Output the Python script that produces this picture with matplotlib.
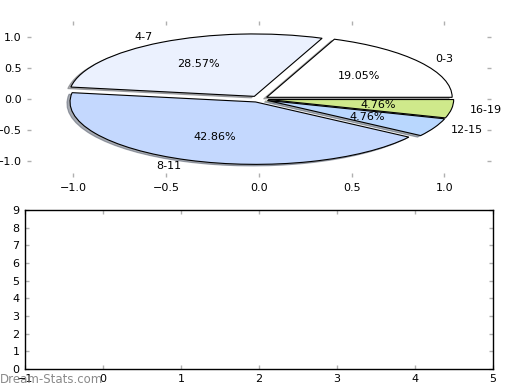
import matplotlib
matplotlib.use("Agg")
import matplotlib.pyplot as plt

# slice data, counterclockwise from 3 o'clock
age_groups = ["0-3", "4-7", "8-11", "12-15", "16-19"]
counts = [4, 6, 9, 1, 1]
slice_colors = ["#ffffff", "#ebf1fe", "#c4d8fe", "#b9d7fe", "#cfe98b"]

bottom_xticks = [-1, 0, 1, 2, 3, 4, 5]
bottom_yticks = [0, 1, 2, 3, 4, 5, 6, 7, 8, 9]

plt.rcParams["font.size"] = 8
plt.rcParams["font.family"] = "DejaVu Sans"

fig = plt.figure(figsize=(5.2, 3.9), dpi=100)


def style_ticks(ax):
    ax.tick_params(direction="in", length=3, width=1, color="#b0b0b0",
                   top=True, right=True, labelsize=8, pad=4)


ax_pie = fig.add_axes([0.052, 0.546, 0.892, 0.4])
ax_pie.pie(
    counts,
    labels=age_groups,
    colors=slice_colors,
    explode=[0.05] * len(counts),
    autopct="%.2f%%",
    shadow={"ox": -0.012, "oy": -0.018, "shade": 0.6},
    startangle=0,
    wedgeprops={"edgecolor": "black", "linewidth": 0.8},
    textprops={"fontsize": 8},
)
ax_pie.set_aspect("auto")
ax_pie.set_xlim(-1.25, 1.25)
ax_pie.set_ylim(-1.25, 1.25)
ax_pie.set_xticks([-1.0, -0.5, 0.0, 0.5, 1.0])
ax_pie.set_yticks([-1.0, -0.5, 0.0, 0.5, 1.0])
ax_pie.set_frame_on(False)
style_ticks(ax_pie)

ax_empty = fig.add_axes([0.048, 0.054, 0.9, 0.408])
ax_empty.set_xlim(bottom_xticks[0], bottom_xticks[-1])
ax_empty.set_ylim(bottom_yticks[0], bottom_yticks[-1])
ax_empty.set_xticks(bottom_xticks)
ax_empty.set_yticks(bottom_yticks)
for spine in ax_empty.spines.values():
    spine.set_linewidth(1)
style_ticks(ax_empty)

fig.text(0.0, 0.011, "Dream-Stats.com", color="#8a8a8a", fontsize=8.5,
         ha="left", va="bottom")

fig.savefig("out.png", dpi=100)
